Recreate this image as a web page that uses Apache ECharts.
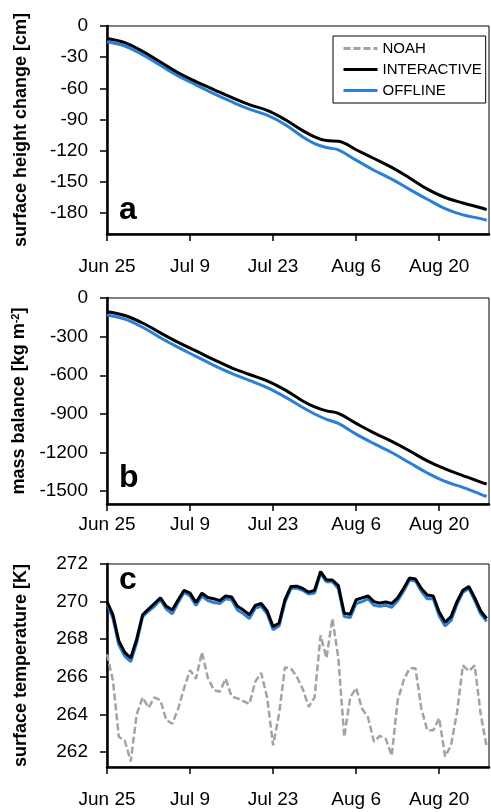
<!DOCTYPE html>
<html><head><meta charset="utf-8">
<script src="https://cdn.jsdelivr.net/npm/echarts@6/dist/echarts.min.js"></script>
<style>html,body{margin:0;padding:0;background:#fff}#c{width:491px;height:812px}</style>
</head><body><div id="c"></div>
<script>
// ---------- data ----------
const tickDays = [0, 14, 28, 42, 56];
const tickLabels = ['Jun 25', 'Jul 9', 'Jul 23', 'Aug 6', 'Aug 20'];

// panels a and b (smooth cumulative curves), days since Jun 25
const smoothDays = [0,3,6,9,12,15,18,21,24,27,30,33,35,37,39,42,45,48,51,54,57,60,63,64];
const heightInteractive = [-12,-16,-24.3,-34.6,-44.9,-53.4,-61.1,-68.7,-75.6,-81.1,-89.9,-100.6,-106.5,-110.2,-110.8,-119,-127.4,-136,-146.1,-156.8,-164.9,-170.2,-174.7,-176.5];
const heightOffline     = [-15.1,-19.2,-27.5,-37.8,-48,-56.6,-65,-72.8,-80,-85.8,-94.7,-106.6,-113,-116.8,-119.2,-129,-138.7,-147.3,-157.1,-166.6,-175.6,-181.6,-185.2,-186.8];
const massInteractive = [-106,-136,-194,-271,-345,-411,-479,-542,-594,-644,-714,-800,-846,-877,-896,-974,-1048,-1113,-1187,-1265,-1327,-1379,-1430,-1445];
const massOffline     = [-132,-164,-227,-309,-384,-453,-523,-585,-640,-696,-768,-851,-901,-942,-974,-1057,-1131,-1200,-1280,-1359,-1425,-1471,-1525,-1542];

// panel c (daily surface temperature)
const days = [0,1,2,3,4,5,6,7,8,9,10,11,12,13,14,15,16,17,18,19,20,21,22,23,24,25,26,27,28,29,30,31,32,33,34,35,36,37,38,39,40,41,42,43,44,45,46,47,48,49,50,51,52,53,54,55,56,57,58,59,60,61,62,63,64];
const tempNoah = [267.2,265.8,262.8,262.6,261.5,264.0,264.9,264.35,264.9,264.75,
  263.7,263.5,264.3,265.4,266.35,265.9,267.3,265.95,265.3,265.2,
  265.9,264.95,264.85,264.7,264.55,265.75,266.2,264.9,262.35,264.0,
  266.5,266.45,266.0,265.35,264.4,264.9,268.2,267.0,269.1,267.0,
  262.8,264.9,265.4,264.3,263.85,262.55,262.85,262.7,261.8,264.75,
  265.8,266.45,266.45,264.3,263.15,263.15,263.8,261.75,262.35,264.1,
  266.6,266.3,266.6,264.0,262.3];
const tempInteractive = [270.0,269.3,267.9,267.3,267.0,268.0,269.3,269.6,269.9,270.2,
  269.75,269.55,270.1,270.6,270.45,269.95,270.45,270.22,270.15,270.05,
  270.3,270.25,269.75,269.55,269.3,269.8,269.9,269.5,268.67,268.85,
  270.1,270.8,270.82,270.7,270.5,270.6,271.6,271.16,271.15,270.85,
  269.38,269.33,270.1,270.2,270.3,270.0,269.92,269.98,269.9,270.2,
  270.7,271.25,271.2,270.7,270.35,270.3,269.45,268.9,269.2,270.0,
  270.6,270.8,270.2,269.5,269.1];
const tempOffline = [269.9,269.1,267.7,267.1,266.8,267.8,269.2,269.5,269.75,270.1,
  269.6,269.35,269.95,270.5,270.3,269.8,270.3,270.05,269.95,269.9,
  270.15,270.1,269.55,269.35,269.1,269.65,269.75,269.35,268.5,268.7,
  269.95,270.7,270.72,270.6,270.4,270.45,271.5,271.05,271.05,270.7,
  269.2,269.15,269.9,270.0,270.15,269.8,269.75,269.8,269.7,270.05,
  270.55,271.15,271.1,270.55,270.15,270.15,269.25,268.7,269.0,269.85,
  270.5,270.7,270.05,269.35,268.95];

const heightTicks = [0,-30,-60,-90,-120,-150,-180];
const massTicks = [0,-300,-600,-900,-1200,-1500];
const tempTicks = [262,264,266,268,270,272];

// ---------- chart ----------
const FF = '"Liberation Sans", Arial, Helvetica, sans-serif';
const BLACK = '#000000', BLUE = '#2a7fd6', GRAY = '#a3a3a3';
const pairs = (xs, ys) => xs.map((x, i) => [x, ys[i]]);

const grids = [
  {left: 107, top: 26, width: 382, height: 208},
  {left: 107, top: 298, width: 382, height: 206},
  {left: 107, top: 564, width: 382, height: 203}
].map(g => Object.assign(g, {show: true, borderColor: '#000', borderWidth: 1, backgroundColor: 'transparent', containLabel: false}));

function xAx(gi, margin) {
  return {
    type: 'value', gridIndex: gi, min: 0, max: 64.4,
    axisLine: {show: true, onZero: false, lineStyle: {color: '#000', width: 2.5}},
    axisTick: {show: true, inside: false, length: 7, customValues: tickDays, lineStyle: {color: '#000', width: 1.5}},
    axisLabel: {show: true, customValues: tickDays, margin: margin, color: '#000', fontSize: 19, fontFamily: FF,
      formatter: v => tickLabels[tickDays.indexOf(v)]},
    splitLine: {show: false}
  };
}
function yAx(gi, min, max, ticks, name, gap, rich) {
  return {
    type: 'value', gridIndex: gi, min: min, max: max,
    name: name, nameLocation: 'middle', nameRotate: 90, nameGap: gap,
    nameTextStyle: {color: '#000', fontSize: 18, fontWeight: 'bold', fontFamily: FF, rich: rich || {}},
    axisLine: {show: true, onZero: false, lineStyle: {color: '#000', width: 2.5}},
    axisTick: {show: true, inside: false, length: 7, customValues: ticks, lineStyle: {color: '#000', width: 1.5}},
    axisLabel: {show: true, customValues: ticks, margin: 19, color: '#000', fontSize: 19, fontFamily: FF,
      formatter: v => String(v)},
    splitLine: {show: false}
  };
}

const option = {
  animation: false,
  backgroundColor: '#fff',
  grid: grids,
  xAxis: [xAx(0, 23), xAx(1, 11), xAx(2, 23)],
  yAxis: [
    yAx(0, -200, 0, heightTicks, 'surface height change [cm]', 77),
    yAx(1, -1600, 0, massTicks, 'mass balance [kg m{sup|-2}]', 77,
      {sup: {fontSize: 11, fontWeight: 'bold', fontFamily: FF, color: '#000', verticalAlign: 'top'}}),
    yAx(2, 261.2, 272, tempTicks, 'surface temperature [K]', 77)
  ],
  legend: {
    orient: 'vertical', left: 333, top: 36,
    padding: [5, 4, 5, 9], itemGap: 6, itemWidth: 34, itemHeight: 15,
    borderColor: '#000', borderWidth: 1, borderRadius: 0, backgroundColor: '#fff',
    itemStyle: {opacity: 0},
    lineStyle: {width: 3},
    textStyle: {color: '#000', fontSize: 15, fontFamily: FF, lineHeight: 15},
    data: ['NOAH', 'INTERACTIVE', 'OFFLINE']
  },
  graphic: [
    {type: 'text', left: 119, top: 194, z: 100, style: {text: 'a', font: 'bold 32px "Liberation Sans", Arial', fill: '#000'}},
    {type: 'text', left: 119, top: 462, z: 100, style: {text: 'b', font: 'bold 32px "Liberation Sans", Arial', fill: '#000'}},
    {type: 'text', left: 119, top: 564, z: 100, style: {text: 'c', font: 'bold 32px "Liberation Sans", Arial', fill: '#000'}}
  ],
  series: [
    {name: 'OFFLINE', type: 'line', xAxisIndex: 0, yAxisIndex: 0, data: pairs(smoothDays, heightOffline), smooth: 0.4, symbol: 'none',
      lineStyle: {color: BLUE, width: 3}, itemStyle: {color: BLUE}},
    {name: 'INTERACTIVE', type: 'line', xAxisIndex: 0, yAxisIndex: 0, data: pairs(smoothDays, heightInteractive), smooth: 0.4, symbol: 'none',
      lineStyle: {color: BLACK, width: 3}, itemStyle: {color: BLACK}},
    {name: 'OFFLINE', type: 'line', xAxisIndex: 1, yAxisIndex: 1, data: pairs(smoothDays, massOffline), smooth: 0.4, symbol: 'none',
      lineStyle: {color: BLUE, width: 3}, itemStyle: {color: BLUE}},
    {name: 'INTERACTIVE', type: 'line', xAxisIndex: 1, yAxisIndex: 1, data: pairs(smoothDays, massInteractive), smooth: 0.4, symbol: 'none',
      lineStyle: {color: BLACK, width: 3}, itemStyle: {color: BLACK}},
    {name: 'NOAH', type: 'line', xAxisIndex: 2, yAxisIndex: 2, data: pairs(days, tempNoah), symbol: 'none',
      lineStyle: {color: GRAY, width: 2.5, type: [7, 3]}, itemStyle: {color: GRAY}},
    {name: 'OFFLINE', type: 'line', xAxisIndex: 2, yAxisIndex: 2, data: pairs(days, tempOffline), symbol: 'none',
      lineStyle: {color: BLUE, width: 3}, itemStyle: {color: BLUE}},
    {name: 'INTERACTIVE', type: 'line', xAxisIndex: 2, yAxisIndex: 2, data: pairs(days, tempInteractive), symbol: 'none',
      lineStyle: {color: BLACK, width: 3}, itemStyle: {color: BLACK}}
  ]
};
const chart = echarts.init(document.getElementById('c'), null, {renderer: 'canvas'});
chart.setOption(option);
</script></body></html>
